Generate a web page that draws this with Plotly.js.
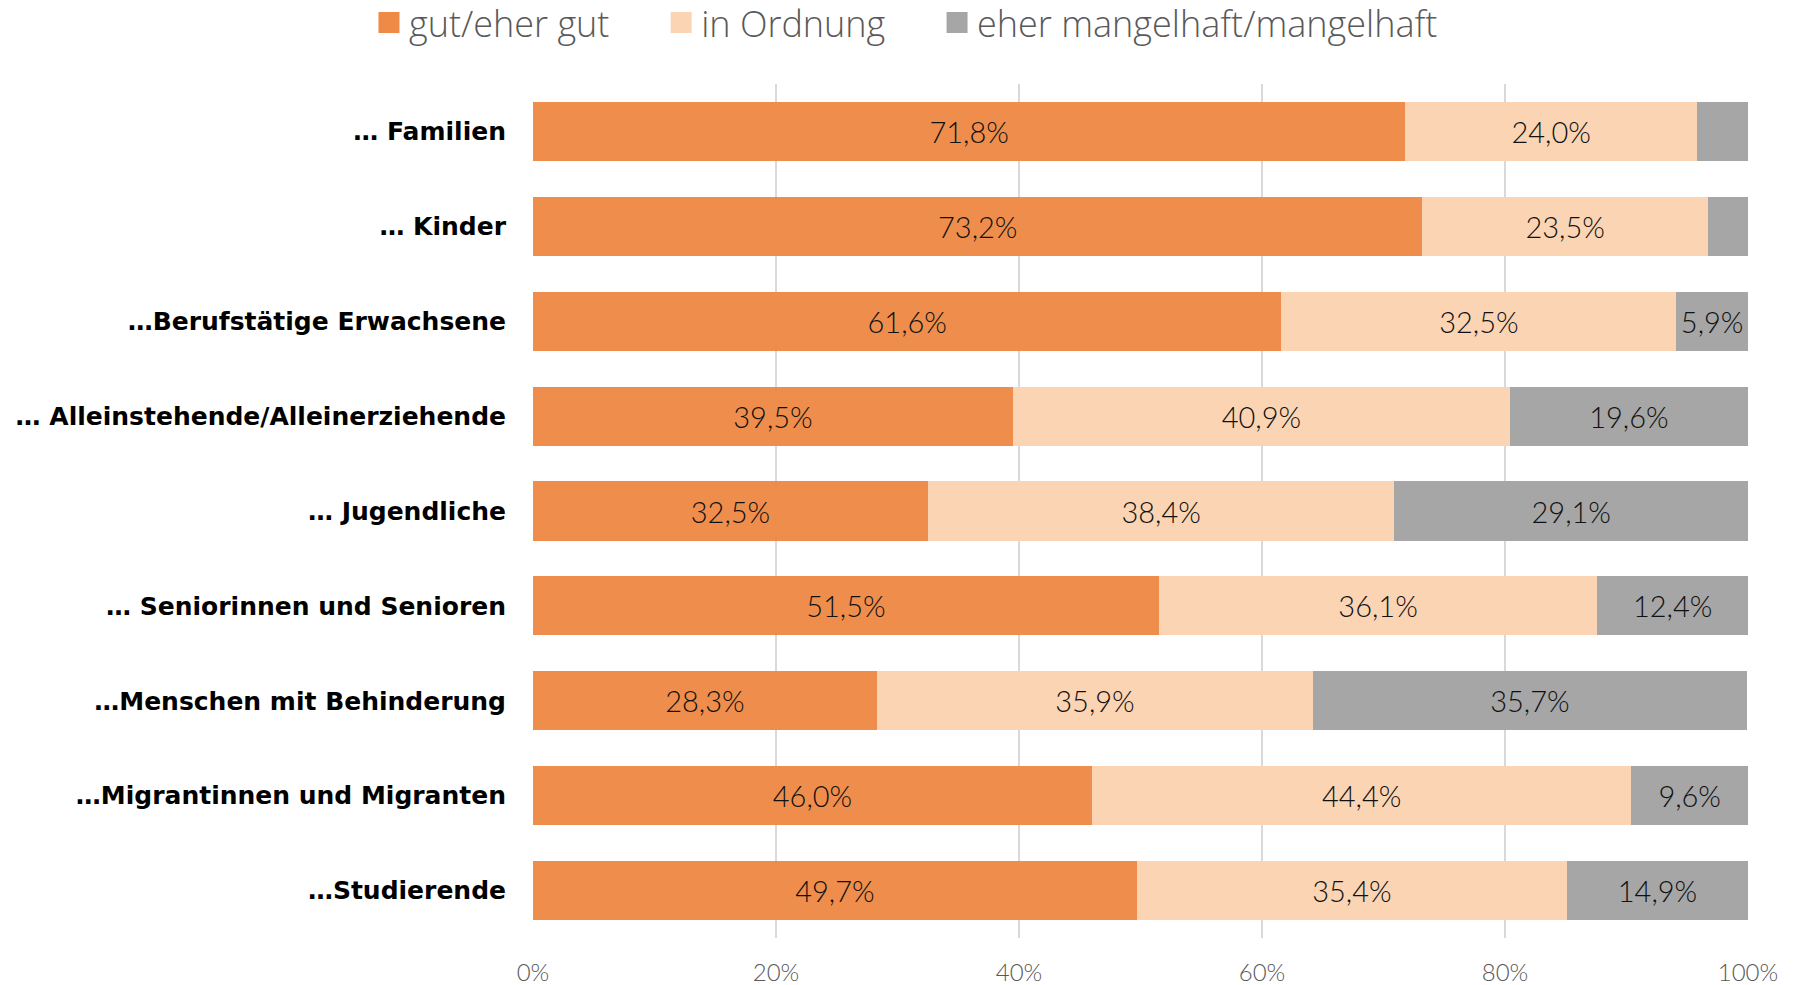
<!DOCTYPE html>
<html>
<head>
<meta charset="utf-8">
<script src="https://cdn.plot.ly/plotly-3.0.1.min.js"></script>
<style>html,body{margin:0;padding:0;background:#fff;}#chart{width:1794px;height:985px;}</style>
</head>
<body>
<div id="chart"></div>
<script>
var categories = [
  "… Familien",
  "… Kinder",
  "…Berufstätige Erwachsene",
  "… Alleinstehende/Alleinerziehende",
  "… Jugendliche",
  "… Seniorinnen und Senioren",
  "…Menschen mit Behinderung",
  "…Migrantinnen und Migranten",
  "…Studierende"
];
var seriesNames = ["gut/eher gut", "in Ordnung", "eher mangelhaft/mangelhaft"];
var gut = [71.8, 73.2, 61.6, 39.5, 32.5, 51.5, 28.3, 46.0, 49.7];
var ordnung = [24.0, 23.5, 32.5, 40.9, 38.4, 36.1, 35.9, 44.4, 35.4];
var mangelhaft = [4.2, 3.3, 5.9, 19.6, 29.1, 12.4, 35.7, 9.6, 14.9];
var tickVals = [0, 20, 40, 60, 80, 100];
var tickText = ["0%", "20%", "40%", "60%", "80%", "100%"];

var colors = ["#EE8A46", "#FBD4B4", "#A6A6A6"];
var minLabel = 5;
var legendPad = '\u00A0\u00A0\u00A0\u00A0\u00A0';

function labels(vals) {
  return vals.map(function (v) {
    return v >= minLabel ? v.toFixed(1).replace('.', ',') + '%' : '';
  });
}

var seriesVals = [gut, ordnung, mangelhaft];
var traces = seriesVals.map(function (vals, i) {
  return {
    type: 'bar',
    orientation: 'h',
    name: seriesNames[i],
    legendgroup: 'g' + i,
    showlegend: false,
    x: vals,
    y: categories,
    text: labels(vals),
    texttemplate: '%{text}',
    textposition: 'inside',
    insidetextanchor: 'middle',
    textangle: 0,
    constraintext: 'none',
    insidetextfont: {family: 'Lato, sans-serif', size: 29, color: '#111111', weight: 300},
    marker: {color: colors[i], opacity: i === 0 ? 0.97 : 1, line: {width: 0}},
    hoverinfo: 'skip'
  };
});
// legend entries (larger square swatches)
seriesNames.forEach(function (name, i) {
  traces.push({
    type: 'scatter',
    mode: 'markers',
    name: i < seriesNames.length - 1 ? name + legendPad : name,
    legendgroup: 'g' + i,
    x: [null],
    y: [null],
    marker: {symbol: 'square', size: 16, color: colors[i], line: {color: colors[i], width: 5}},
    hoverinfo: 'skip'
  });
});

var layout = {
  width: 1794,
  height: 985,
  barmode: 'stack',
  bargap: 0.378,
  margin: {l: 533, r: 46, t: 84, b: 47, pad: 0},
  paper_bgcolor: '#ffffff',
  plot_bgcolor: '#ffffff',
  showlegend: true,
  legend: {
    orientation: 'h',
    xref: 'container', yref: 'container',
    x: 0.505, xanchor: 'center',
    y: 0.977, yanchor: 'middle',
    font: {family: '"Open Sans", sans-serif', size: 36, color: '#595959', weight: 300},
    traceorder: 'normal',
    itemclick: false
  },
  xaxis: {
    range: [0, 100],
    tickvals: tickVals,
    ticktext: tickText,
    showgrid: true,
    gridcolor: '#D9D9D9',
    gridwidth: 1.5,
    zeroline: false,
    showline: false,
    ticks: '',
    ticklabelstandoff: 18,
    tickfont: {family: 'Lato, sans-serif', size: 24, color: '#595959', weight: 300},
    fixedrange: true
  },
  yaxis: {
    autorange: 'reversed',
    type: 'category',
    showgrid: false,
    zeroline: false,
    showline: false,
    ticks: '',
    ticklabelstandoff: 26,
    tickfont: {family: '"DejaVu Sans", sans-serif', size: 25, color: '#000000', weight: 700},
    fixedrange: true
  }
};

Plotly.newPlot('chart', traces, layout, {displayModeBar: false, staticPlot: true});
</script>
</body>
</html>
